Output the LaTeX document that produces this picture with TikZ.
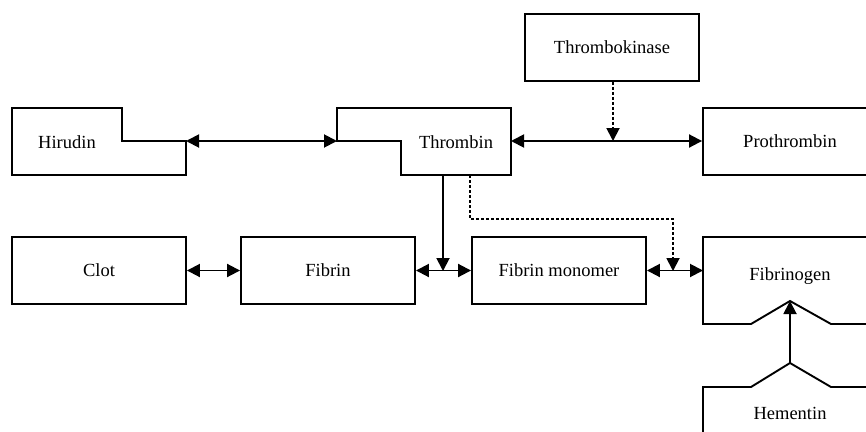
\documentclass[tikz,border=0pt]{standalone}
\usepackage{fontspec}
\setmainfont{Liberation Serif}
\usetikzlibrary{arrows.meta}
\begin{document}
\begin{tikzpicture}[x=1pt,y=-1pt,
  line width=1.9pt,
  lbl/.style={font=\fontsize{18.5}{22}\selectfont, inner sep=0pt},
  plainbox/.style={draw, minimum width=174pt, minimum height=67pt, inner sep=0pt,
                   font=\fontsize{18.5}{22}\selectfont},
  shapebox/.style={minimum width=174pt, minimum height=67pt, inner sep=0pt, outer sep=0pt},
  headtip/.style={-{Triangle[length=13pt,width=13pt]}},
  both/.style={{Triangle[length=13pt,width=13pt]}-{Triangle[length=13pt,width=13pt]}},
  dotted link/.style={dash pattern=on 3pt off 2pt}]
\clip (0,0) rectangle (866,431);

% rectangular boxes
\node[plainbox] (kinase) at (612,47.5)  {Thrombokinase};
\node[plainbox] (prothr) at (790,141.5) {Prothrombin};
\node[plainbox] (clot)   at (99,270.5)  {Clot};
\node[plainbox] (fibrin) at (328,270.5) {Fibrin};
\node[plainbox] (mono)   at (559,270.5) {Fibrin monomer};

% boxes with cut-outs: frame node plus outline
\node[shapebox] (hirudin)  at (99,141.5) {};
\node[shapebox] (thrombin) at (424,141.5) {};
\node[shapebox, minimum height=87pt] (fibrinogen) at (790,280.5) {};
\node[shapebox] (hementin) at (790,420) {};

\draw (hirudin.north west) -- (122,108) -- (122,141) -- (186,141)
      -- (hirudin.south east) -- (hirudin.south west) -- cycle;
\draw (thrombin.north west) -- (thrombin.north east) -- (thrombin.south east)
      -- (401,175) -- (401,141) -- (337,141) -- cycle;
\coordinate (fgpeak) at (790,301);
\draw (fibrinogen.north west) -- (fibrinogen.north east) -- (fibrinogen.south east)
      -- (831,324) -- (fgpeak) -- (751,324) -- (fibrinogen.south west) -- cycle;
\coordinate (hmpeak) at (790,363);
\draw (703,440) -- (703,387) -- (751,387) -- (hmpeak) -- (831,387) -- (880,387);

% labels of the cut-out boxes
\node[lbl] (hirudin-t)    at (67,142)  {Hirudin};
\node[lbl] (thrombin-t)   at (456,142) {Thrombin};
\node[lbl] (fibrinogen-t) at (790,276) {Fibrinogen};
\node[lbl] (hementin-t)   at (790,413) {Hementin};

% reversible links
\draw[both] (hirudin.east |- 0,141) -- (thrombin.west |- 0,141);
\draw[both] (thrombin.east |- 0,141) -- (prothr.west |- 0,141);
\draw[both] (clot.east) -- (fibrin.west);
\draw[both] (fibrin.east) -- (mono.west);
\draw[both] (mono.east) -- (fibrinogen.west |- mono.east);

% catalytic links
\coordinate (k1) at (613,141);
\draw[headtip, dotted link] (kinase.south -| k1) -- (k1);
\coordinate (t1) at (443,271);
\draw[headtip] (thrombin.south -| t1) -- (t1);
\coordinate (t2) at (673,271);
\draw[headtip, dotted link] (thrombin.south -| 470,0) -- (470,219) -- (673,219) -- (t2);
\draw[headtip] (hmpeak) -- (fgpeak);
\end{tikzpicture}
\end{document}
